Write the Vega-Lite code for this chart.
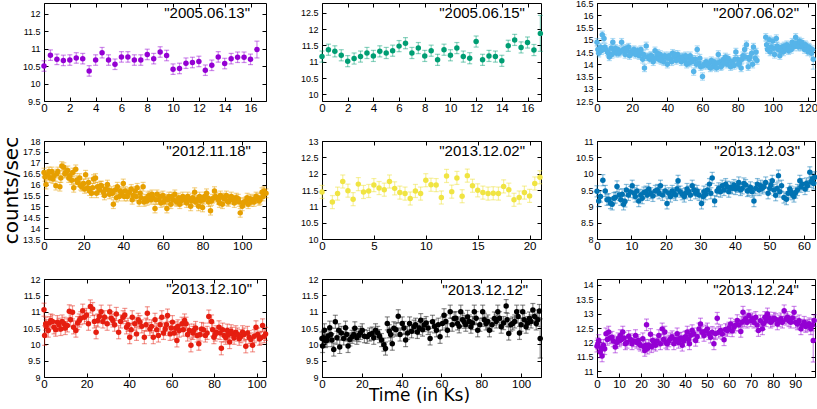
{
"$schema":"https://vega.github.io/schema/vega-lite/v6.json",
"padding":{"left":0,"top":-2,"right":0,"bottom":0},
"columns":3,
"bounds":"flush",
"spacing":{"row":40,"column":56},
"config":{
 "numberFormat":"~f",
 "view":{"stroke":"#000","strokeWidth":1},
 "axis":{"domain":false,"grid":false,"ticks":true,"tickColor":"#000","tickSize":-4,"tickWidth":1,"labelFont":"Liberation Sans","labelColor":"#000","labelOverlap":false,"labelFlush":false,"titleFont":"DejaVu Sans","titleFontWeight":"normal","titleColor":"#000"},
 "axisX":{"labelFontSize":11.5,"labelPadding":5},
 "axisY":{"labelFontSize":9,"labelPadding":8},
 "text":{"font":"Liberation Sans","fontSize":15,"color":"#000"}
},
"datasets":{
"p1":[{"t":0,"c":10.5,"e":0.15},{"t":0.5,"c":10.81,"e":0.15},{"t":1,"c":10.69,"e":0.15},{"t":1.5,"c":10.66,"e":0.15},{"t":2,"c":10.67,"e":0.15},{"t":2.5,"c":10.73,"e":0.15},{"t":3,"c":10.71,"e":0.15},{"t":3.5,"c":10.36,"e":0.15},{"t":4,"c":10.67,"e":0.15},{"t":4.5,"c":10.88,"e":0.15},{"t":5,"c":10.67,"e":0.15},{"t":5.5,"c":10.55,"e":0.15},{"t":6,"c":10.76,"e":0.15},{"t":6.5,"c":10.76,"e":0.15},{"t":7,"c":10.67,"e":0.15},{"t":7.5,"c":10.67,"e":0.15},{"t":8,"c":10.83,"e":0.15},{"t":8.5,"c":10.71,"e":0.15},{"t":9,"c":10.9,"e":0.15},{"t":9.5,"c":10.8,"e":0.15},{"t":10,"c":10.41,"e":0.15},{"t":10.5,"c":10.43,"e":0.15},{"t":11,"c":10.58,"e":0.15},{"t":11.5,"c":10.6,"e":0.15},{"t":12,"c":10.63,"e":0.15},{"t":12.5,"c":10.38,"e":0.15},{"t":13,"c":10.52,"e":0.15},{"t":13.5,"c":10.76,"e":0.15},{"t":14,"c":10.57,"e":0.15},{"t":14.5,"c":10.71,"e":0.15},{"t":15,"c":10.75,"e":0.15},{"t":15.5,"c":10.75,"e":0.15},{"t":16,"c":10.69,"e":0.15},{"t":16.5,"c":10.97,"e":0.24}],
"p2":[{"t":0,"c":11.16,"e":0.17},{"t":0.5,"c":11.37,"e":0.17},{"t":1,"c":11.32,"e":0.17},{"t":1.5,"c":11.2,"e":0.17},{"t":2,"c":11.02,"e":0.17},{"t":2.5,"c":11.1,"e":0.17},{"t":3,"c":11.16,"e":0.17},{"t":3.5,"c":11.27,"e":0.17},{"t":4,"c":11.18,"e":0.17},{"t":4.5,"c":11.32,"e":0.17},{"t":5,"c":11.27,"e":0.17},{"t":5.5,"c":11.34,"e":0.17},{"t":6,"c":11.48,"e":0.17},{"t":6.5,"c":11.57,"e":0.17},{"t":7,"c":11.27,"e":0.17},{"t":7.5,"c":11.42,"e":0.17},{"t":8,"c":11.18,"e":0.17},{"t":8.5,"c":11.34,"e":0.17},{"t":9,"c":11.06,"e":0.17},{"t":9.5,"c":11.37,"e":0.17},{"t":10,"c":11.2,"e":0.17},{"t":10.5,"c":11.42,"e":0.17},{"t":11,"c":11.16,"e":0.17},{"t":11.5,"c":11.11,"e":0.17},{"t":12,"c":11.62,"e":0.17},{"t":12.5,"c":11.06,"e":0.17},{"t":13,"c":11.18,"e":0.17},{"t":13.5,"c":11.16,"e":0.17},{"t":14,"c":11.03,"e":0.17},{"t":14.5,"c":11.49,"e":0.17},{"t":15,"c":11.67,"e":0.17},{"t":15.5,"c":11.44,"e":0.17},{"t":16,"c":11.59,"e":0.17},{"t":16.5,"c":11.36,"e":0.17},{"t":17,"c":11.87,"e":0.55}],
"p3":[{"t":0,"c":14.9,"e":0.15},{"t":1,"c":14.45,"e":0.15},{"t":2,"c":14.7,"e":0.15},{"t":3,"c":15.2,"e":0.15},{"t":4,"c":15.05,"e":0.15},{"t":5,"c":14.6,"e":0.15},{"t":6,"c":14.5,"e":0.15},{"t":7,"c":14.3,"e":0.15},{"t":8,"c":14.65,"e":0.15},{"t":9,"c":14.9,"e":0.15},{"t":10,"c":14.55,"e":0.15},{"t":11,"c":14.45,"e":0.15},{"t":12,"c":14.6,"e":0.15},{"t":13,"c":14.5,"e":0.15},{"t":14,"c":14.9,"e":0.15},{"t":15,"c":14.6,"e":0.15},{"t":16,"c":14.4,"e":0.15},{"t":17,"c":14.55,"e":0.15},{"t":18,"c":14.7,"e":0.15},{"t":19,"c":14.5,"e":0.15},{"t":20,"c":14.45,"e":0.15},{"t":21,"c":14.6,"e":0.15},{"t":22,"c":14.4,"e":0.15},{"t":23,"c":14.55,"e":0.15},{"t":24,"c":14.35,"e":0.15},{"t":25,"c":14.6,"e":0.15},{"t":26,"c":14.2,"e":0.15},{"t":27,"c":13.85,"e":0.15},{"t":28,"c":14.75,"e":0.15},{"t":29,"c":14.3,"e":0.15},{"t":30,"c":14.2,"e":0.15},{"t":31,"c":14.35,"e":0.15},{"t":32,"c":14.1,"e":0.15},{"t":33,"c":14.55,"e":0.15},{"t":34,"c":14.3,"e":0.15},{"t":35,"c":14.2,"e":0.15},{"t":36,"c":14.4,"e":0.15},{"t":37,"c":14.25,"e":0.15},{"t":38,"c":14.1,"e":0.15},{"t":39,"c":14.3,"e":0.15},{"t":40,"c":14.0,"e":0.15},{"t":41,"c":14.35,"e":0.15},{"t":42,"c":14.2,"e":0.15},{"t":43,"c":14.45,"e":0.15},{"t":44,"c":14.3,"e":0.15},{"t":45,"c":14.15,"e":0.15},{"t":46,"c":14.4,"e":0.15},{"t":47,"c":14.25,"e":0.15},{"t":48,"c":14.1,"e":0.15},{"t":49,"c":14.3,"e":0.15},{"t":50,"c":14.15,"e":0.15},{"t":51,"c":14.0,"e":0.15},{"t":52,"c":14.25,"e":0.15},{"t":53,"c":14.35,"e":0.15},{"t":54,"c":14.1,"e":0.15},{"t":55,"c":13.7,"e":0.15},{"t":56,"c":14.2,"e":0.15},{"t":57,"c":14.6,"e":0.15},{"t":58,"c":14.05,"e":0.15},{"t":59,"c":13.9,"e":0.15},{"t":60,"c":13.5,"e":0.15},{"t":61,"c":14.0,"e":0.15},{"t":62,"c":14.1,"e":0.15},{"t":63,"c":13.95,"e":0.15},{"t":64,"c":14.05,"e":0.15},{"t":65,"c":14.15,"e":0.15},{"t":66,"c":13.9,"e":0.15},{"t":67,"c":14.0,"e":0.15},{"t":68,"c":13.85,"e":0.15},{"t":69,"c":14.4,"e":0.15},{"t":70,"c":14.1,"e":0.15},{"t":71,"c":13.95,"e":0.15},{"t":72,"c":14.2,"e":0.15},{"t":73,"c":14.3,"e":0.15},{"t":74,"c":14.0,"e":0.15},{"t":75,"c":14.15,"e":0.15},{"t":76,"c":13.9,"e":0.15},{"t":77,"c":14.05,"e":0.15},{"t":78,"c":13.95,"e":0.15},{"t":79,"c":14.5,"e":0.15},{"t":80,"c":14.2,"e":0.15},{"t":81,"c":14.05,"e":0.15},{"t":82,"c":13.85,"e":0.15},{"t":83,"c":14.35,"e":0.15},{"t":84,"c":14.6,"e":0.15},{"t":85,"c":14.8,"e":0.15},{"t":86,"c":13.9,"e":0.15},{"t":87,"c":14.3,"e":0.15},{"t":88,"c":14.45,"e":0.15},{"t":89,"c":14.7,"e":0.15},{"t":90,"c":14.25,"e":0.15},{"t":91,"c":14.15,"e":0.15},{"t":96,"c":15.1,"e":0.15},{"t":97,"c":14.6,"e":0.15},{"t":98,"c":15.0,"e":0.15},{"t":99,"c":14.7,"e":0.15},{"t":100,"c":14.95,"e":0.15},{"t":101,"c":14.4,"e":0.15},{"t":102,"c":15.05,"e":0.15},{"t":103,"c":14.6,"e":0.15},{"t":104,"c":14.35,"e":0.15},{"t":105,"c":14.7,"e":0.15},{"t":106,"c":14.5,"e":0.15},{"t":107,"c":14.65,"e":0.15},{"t":108,"c":14.8,"e":0.15},{"t":109,"c":14.55,"e":0.15},{"t":110,"c":14.75,"e":0.15},{"t":111,"c":14.9,"e":0.15},{"t":112,"c":14.7,"e":0.15},{"t":113,"c":15.1,"e":0.15},{"t":114,"c":14.85,"e":0.15},{"t":115,"c":14.95,"e":0.15},{"t":116,"c":14.7,"e":0.15},{"t":117,"c":14.8,"e":0.15},{"t":118,"c":14.6,"e":0.15},{"t":119,"c":14.75,"e":0.15},{"t":120,"c":14.5,"e":0.15},{"t":121,"c":14.65,"e":0.15},{"t":122,"c":14.45,"e":0.15},{"t":123,"c":14.2,"e":0.4},
{"t":0.5,"c":14.6,"e":0.15},{"t":2.5,"c":14.55,"e":0.15},{"t":4.5,"c":14.7,"e":0.15},{"t":6.5,"c":14.45,"e":0.15},{"t":8.5,"c":14.4,"e":0.15},{"t":10.5,"c":14.65,"e":0.15},{"t":12.5,"c":14.45,"e":0.15},{"t":14.5,"c":14.55,"e":0.15},{"t":16.5,"c":14.65,"e":0.15},{"t":18.5,"c":14.35,"e":0.15},{"t":20.5,"c":14.55,"e":0.15},{"t":22.5,"c":14.5,"e":0.15},{"t":24.5,"c":14.5,"e":0.15},{"t":26.5,"c":14.4,"e":0.15},{"t":28.5,"c":14.3,"e":0.15},{"t":30.5,"c":14.35,"e":0.15},{"t":32.5,"c":14.25,"e":0.15},{"t":34.5,"c":14.45,"e":0.15},{"t":36.5,"c":14.15,"e":0.15},{"t":38.5,"c":14.35,"e":0.15},{"t":40.5,"c":14.25,"e":0.15},{"t":42.5,"c":14.1,"e":0.15},{"t":44.5,"c":14.4,"e":0.15},{"t":46.5,"c":14.2,"e":0.15},{"t":48.5,"c":14.3,"e":0.15},{"t":50.5,"c":14.35,"e":0.15},{"t":52.5,"c":14.05,"e":0.15},{"t":54.5,"c":14.2,"e":0.15},{"t":56.5,"c":14.0,"e":0.15},{"t":58.5,"c":14.25,"e":0.15},{"t":60.5,"c":13.95,"e":0.15},{"t":62.5,"c":14.0,"e":0.15},{"t":64.5,"c":13.85,"e":0.15},{"t":66.5,"c":14.1,"e":0.15},{"t":68.5,"c":14.05,"e":0.15},{"t":70.5,"c":13.9,"e":0.15},{"t":72.5,"c":14.05,"e":0.15},{"t":74.5,"c":14.25,"e":0.15},{"t":76.5,"c":14.1,"e":0.15},{"t":78.5,"c":14.2,"e":0.15},{"t":80.5,"c":14.0,"e":0.15},{"t":82.5,"c":14.2,"e":0.15},{"t":84.5,"c":14.3,"e":0.15},{"t":86.5,"c":14.2,"e":0.15},{"t":88.5,"c":14.0,"e":0.15},{"t":90.5,"c":14.5,"e":0.15},{"t":96.5,"c":14.8,"e":0.15},{"t":98.5,"c":14.5,"e":0.15},{"t":100.5,"c":14.65,"e":0.15},{"t":102.5,"c":14.75,"e":0.15},{"t":104.5,"c":14.55,"e":0.15},{"t":106.5,"c":14.75,"e":0.15},{"t":108.5,"c":14.6,"e":0.15},{"t":110.5,"c":14.6,"e":0.15},{"t":112.5,"c":14.85,"e":0.15},{"t":114.5,"c":14.7,"e":0.15},{"t":116.5,"c":14.9,"e":0.15},{"t":118.5,"c":14.8,"e":0.15},{"t":120.5,"c":14.7,"e":0.15},{"t":122.5,"c":14.6,"e":0.15}],
"p4":[{"t":0,"c":16.55,"e":0.2},{"t":1,"c":16.0,"e":0.2},{"t":2,"c":16.45,"e":0.2},{"t":3,"c":16.3,"e":0.2},{"t":4,"c":16.6,"e":0.2},{"t":5,"c":16.4,"e":0.2},{"t":6,"c":15.95,"e":0.2},{"t":7,"c":16.6,"e":0.2},{"t":8,"c":15.9,"e":0.2},{"t":9,"c":16.85,"e":0.2},{"t":10,"c":16.8,"e":0.2},{"t":11,"c":16.55,"e":0.2},{"t":12,"c":16.65,"e":0.2},{"t":13,"c":16.4,"e":0.2},{"t":14,"c":16.2,"e":0.2},{"t":15,"c":15.85,"e":0.2},{"t":16,"c":16.7,"e":0.2},{"t":17,"c":16.1,"e":0.2},{"t":18,"c":16.3,"e":0.2},{"t":19,"c":15.9,"e":0.2},{"t":20,"c":16.05,"e":0.2},{"t":21,"c":16.45,"e":0.2},{"t":22,"c":15.85,"e":0.2},{"t":23,"c":15.7,"e":0.2},{"t":24,"c":15.6,"e":0.2},{"t":25,"c":16.25,"e":0.2},{"t":26,"c":16.3,"e":0.2},{"t":27,"c":15.9,"e":0.2},{"t":28,"c":15.75,"e":0.2},{"t":29,"c":15.95,"e":0.2},{"t":30,"c":15.65,"e":0.2},{"t":31,"c":15.8,"e":0.2},{"t":32,"c":16.0,"e":0.2},{"t":33,"c":15.55,"e":0.2},{"t":34,"c":15.7,"e":0.2},{"t":35,"c":15.1,"e":0.2},{"t":36,"c":15.75,"e":0.2},{"t":37,"c":15.9,"e":0.2},{"t":38,"c":15.45,"e":0.2},{"t":39,"c":15.6,"e":0.2},{"t":40,"c":16.05,"e":0.2},{"t":41,"c":15.7,"e":0.2},{"t":42,"c":15.45,"e":0.2},{"t":43,"c":15.65,"e":0.2},{"t":44,"c":15.8,"e":0.2},{"t":45,"c":15.5,"e":0.2},{"t":46,"c":15.7,"e":0.2},{"t":47,"c":15.85,"e":0.2},{"t":48,"c":15.2,"e":0.2},{"t":49,"c":15.4,"e":0.2},{"t":50,"c":15.9,"e":0.2},{"t":51,"c":15.35,"e":0.2},{"t":52,"c":15.25,"e":0.2},{"t":53,"c":15.5,"e":0.2},{"t":54,"c":15.3,"e":0.2},{"t":55,"c":15.4,"e":0.2},{"t":56,"c":14.9,"e":0.2},{"t":57,"c":15.55,"e":0.2},{"t":58,"c":15.3,"e":0.2},{"t":59,"c":15.15,"e":0.2},{"t":60,"c":15.5,"e":0.2},{"t":61,"c":15.35,"e":0.2},{"t":62,"c":14.9,"e":0.2},{"t":63,"c":15.45,"e":0.2},{"t":64,"c":15.1,"e":0.2},{"t":65,"c":15.3,"e":0.2},{"t":66,"c":15.55,"e":0.2},{"t":67,"c":15.2,"e":0.2},{"t":68,"c":15.4,"e":0.2},{"t":69,"c":15.25,"e":0.2},{"t":70,"c":15.45,"e":0.2},{"t":71,"c":15.3,"e":0.2},{"t":72,"c":15.15,"e":0.2},{"t":73,"c":15.35,"e":0.2},{"t":74,"c":15.0,"e":0.2},{"t":75,"c":15.4,"e":0.2},{"t":76,"c":15.65,"e":0.2},{"t":77,"c":15.3,"e":0.2},{"t":78,"c":15.0,"e":0.2},{"t":79,"c":15.25,"e":0.2},{"t":80,"c":14.95,"e":0.2},{"t":81,"c":15.45,"e":0.2},{"t":82,"c":15.6,"e":0.2},{"t":83,"c":15.2,"e":0.2},{"t":84,"c":14.8,"e":0.2},{"t":85,"c":15.35,"e":0.2},{"t":86,"c":15.7,"e":0.2},{"t":87,"c":15.4,"e":0.2},{"t":88,"c":15.3,"e":0.2},{"t":89,"c":15.5,"e":0.2},{"t":90,"c":15.1,"e":0.2},{"t":91,"c":15.35,"e":0.2},{"t":92,"c":15.5,"e":0.2},{"t":93,"c":15.2,"e":0.2},{"t":94,"c":15.35,"e":0.2},{"t":95,"c":15.3,"e":0.2},{"t":96,"c":15.15,"e":0.2},{"t":97,"c":15.4,"e":0.2},{"t":98,"c":15.35,"e":0.2},{"t":99,"c":14.7,"e":0.2},{"t":100,"c":15.0,"e":0.2},{"t":101,"c":15.2,"e":0.2},{"t":102,"c":15.25,"e":0.2},{"t":103,"c":15.1,"e":0.2},{"t":104,"c":15.35,"e":0.2},{"t":105,"c":15.3,"e":0.2},{"t":106,"c":15.2,"e":0.2},{"t":107,"c":15.45,"e":0.2},{"t":108,"c":15.4,"e":0.2},{"t":109,"c":15.3,"e":0.2},{"t":110,"c":15.65,"e":0.2},{"t":111,"c":15.7,"e":0.2},{"t":112,"c":15.6,"e":0.2},
{"t":0.5,"c":16.35,"e":0.2},{"t":2.5,"c":16.6,"e":0.2},{"t":4.5,"c":16.25,"e":0.2},{"t":6.5,"c":16.5,"e":0.2},{"t":8.5,"c":16.3,"e":0.2},{"t":10.5,"c":16.5,"e":0.2},{"t":12.5,"c":16.3,"e":0.2},{"t":14.5,"c":16.55,"e":0.2},{"t":16.5,"c":16.2,"e":0.2},{"t":18.5,"c":15.95,"e":0.2},{"t":20.5,"c":15.8,"e":0.2},{"t":22.5,"c":16.1,"e":0.2},{"t":24.5,"c":15.85,"e":0.2},{"t":26.5,"c":15.6,"e":0.2},{"t":28.5,"c":15.95,"e":0.2},{"t":30.5,"c":15.5,"e":0.2},{"t":32.5,"c":15.75,"e":0.2},{"t":34.5,"c":15.6,"e":0.2},{"t":36.5,"c":15.4,"e":0.2},{"t":38.5,"c":15.7,"e":0.2},{"t":40.5,"c":15.45,"e":0.2},{"t":42.5,"c":15.6,"e":0.2},{"t":44.5,"c":15.3,"e":0.2},{"t":46.5,"c":15.45,"e":0.2},{"t":48.5,"c":15.6,"e":0.2},{"t":50.5,"c":15.2,"e":0.2},{"t":52.5,"c":15.45,"e":0.2},{"t":54.5,"c":15.55,"e":0.2},{"t":56.5,"c":15.3,"e":0.2},{"t":58.5,"c":15.45,"e":0.2},{"t":60.5,"c":15.2,"e":0.2},{"t":62.5,"c":15.3,"e":0.2},{"t":64.5,"c":15.45,"e":0.2},{"t":66.5,"c":15.25,"e":0.2},{"t":68.5,"c":15.1,"e":0.2},{"t":70.5,"c":15.3,"e":0.2},{"t":72.5,"c":15.45,"e":0.2},{"t":74.5,"c":15.25,"e":0.2},{"t":76.5,"c":15.2,"e":0.2},{"t":78.5,"c":15.45,"e":0.2},{"t":80.5,"c":15.3,"e":0.2},{"t":82.5,"c":15.4,"e":0.2},{"t":84.5,"c":15.25,"e":0.2},{"t":86.5,"c":15.45,"e":0.2},{"t":88.5,"c":15.15,"e":0.2},{"t":90.5,"c":15.4,"e":0.2},{"t":92.5,"c":15.25,"e":0.2},{"t":94.5,"c":15.45,"e":0.2},{"t":96.5,"c":15.3,"e":0.2},{"t":98.5,"c":15.2,"e":0.2},{"t":100.5,"c":15.15,"e":0.2},{"t":102.5,"c":15.4,"e":0.2},{"t":104.5,"c":15.2,"e":0.2},{"t":106.5,"c":15.35,"e":0.2},{"t":108.5,"c":15.25,"e":0.2},{"t":110.5,"c":15.45,"e":0.2}],
"p5":[{"t":0,"c":11.44,"e":0.2},{"t":1,"c":11.13,"e":0.2},{"t":1.5,"c":11.39,"e":0.2},{"t":2,"c":11.76,"e":0.2},{"t":2.5,"c":11.48,"e":0.2},{"t":3,"c":11.22,"e":0.2},{"t":3.5,"c":11.68,"e":0.2},{"t":4,"c":11.44,"e":0.2},{"t":4.5,"c":11.47,"e":0.2},{"t":5,"c":11.65,"e":0.2},{"t":5.5,"c":11.56,"e":0.2},{"t":6,"c":11.51,"e":0.2},{"t":6.5,"c":11.76,"e":0.2},{"t":7,"c":11.55,"e":0.2},{"t":7.5,"c":11.42,"e":0.2},{"t":8,"c":11.39,"e":0.2},{"t":8.5,"c":11.24,"e":0.2},{"t":9,"c":11.47,"e":0.2},{"t":9.5,"c":11.39,"e":0.2},{"t":10,"c":11.8,"e":0.2},{"t":10.5,"c":11.66,"e":0.2},{"t":11,"c":11.65,"e":0.2},{"t":11.5,"c":11.27,"e":0.2},{"t":12,"c":11.93,"e":0.2},{"t":12.5,"c":11.45,"e":0.2},{"t":13,"c":11.87,"e":0.2},{"t":13.5,"c":11.31,"e":0.2},{"t":14,"c":11.94,"e":0.2},{"t":14.5,"c":11.63,"e":0.2},{"t":15,"c":11.49,"e":0.2},{"t":15.5,"c":11.42,"e":0.2},{"t":16,"c":11.39,"e":0.2},{"t":16.5,"c":11.4,"e":0.2},{"t":17,"c":11.39,"e":0.2},{"t":17.5,"c":11.61,"e":0.2},{"t":18,"c":11.51,"e":0.2},{"t":18.5,"c":11.2,"e":0.2},{"t":19,"c":11.27,"e":0.2},{"t":19.5,"c":11.42,"e":0.2},{"t":20,"c":11.32,"e":0.2},{"t":20.5,"c":11.7,"e":0.2},{"t":21,"c":11.89,"e":0.2}],
"p6":[{"t":0,"c":9.46,"e":0.17},{"t":0.5,"c":9.16,"e":0.17},{"t":1.7,"c":9.8,"e":0.17},{"t":2.4,"c":9.47,"e":0.17},{"t":3.4,"c":9.22,"e":0.17},{"t":4.4,"c":9.06,"e":0.17},{"t":5.3,"c":9.27,"e":0.17},{"t":5.8,"c":9.61,"e":0.17},{"t":7.3,"c":9.37,"e":0.17},{"t":7.7,"c":9.06,"e":0.17},{"t":8.5,"c":9.5,"e":0.17},{"t":9.7,"c":9.44,"e":0.17},{"t":10.2,"c":9.63,"e":0.17},{"t":11.6,"c":9.47,"e":0.17},{"t":12.1,"c":9.16,"e":0.17},{"t":13.6,"c":9.42,"e":0.17},{"t":15,"c":9.53,"e":0.17},{"t":16.2,"c":9.32,"e":0.17},{"t":16.9,"c":9.47,"e":0.17},{"t":18.4,"c":9.63,"e":0.17},{"t":19.8,"c":9.47,"e":0.17},{"t":20.3,"c":9.09,"e":0.17},{"t":21.8,"c":9.47,"e":0.17},{"t":23.2,"c":9.53,"e":0.17},{"t":23.5,"c":9.78,"e":0.17},{"t":24.7,"c":9.37,"e":0.17},{"t":26.1,"c":9.53,"e":0.17},{"t":27.6,"c":9.63,"e":0.17},{"t":29,"c":9.47,"e":0.17},{"t":30.3,"c":9.09,"e":0.17},{"t":31.5,"c":9.37,"e":0.17},{"t":32.6,"c":9.68,"e":0.17},{"t":33.4,"c":9.87,"e":0.17},{"t":34.1,"c":9.16,"e":0.17},{"t":34.8,"c":9.47,"e":0.17},{"t":36.3,"c":9.63,"e":0.17},{"t":37.3,"c":9.68,"e":0.17},{"t":38.7,"c":9.58,"e":0.17},{"t":40.2,"c":9.53,"e":0.17},{"t":41.1,"c":9.73,"e":0.17},{"t":42.6,"c":9.7,"e":0.17},{"t":43.6,"c":9.47,"e":0.17},{"t":44.5,"c":9.58,"e":0.17},{"t":45.5,"c":9.16,"e":0.17},{"t":46.5,"c":9.68,"e":0.17},{"t":47.4,"c":9.63,"e":0.17},{"t":48.9,"c":9.73,"e":0.17},{"t":49.6,"c":9.4,"e":0.17},{"t":50.8,"c":9.78,"e":0.17},{"t":51.8,"c":9.34,"e":0.17},{"t":52.6,"c":9.94,"e":0.17},{"t":53.5,"c":9.63,"e":0.17},{"t":54.2,"c":9.27,"e":0.17},{"t":54.9,"c":9.22,"e":0.17},{"t":55.9,"c":9.53,"e":0.17},{"t":56.6,"c":9.37,"e":0.17},{"t":57.6,"c":9.42,"e":0.17},{"t":58.8,"c":9.78,"e":0.17},{"t":59.5,"c":9.68,"e":0.17},{"t":60.3,"c":9.53,"e":0.17},{"t":61,"c":9.63,"e":0.17},{"t":61.7,"c":10.04,"e":0.17},{"t":62.4,"c":9.84,"e":0.17},{"t":63.1,"c":9.89,"e":0.17},
{"t":1,"c":9.3,"e":0.17},{"t":2.9,"c":9.2,"e":0.17},{"t":3.9,"c":9.1,"e":0.17},{"t":4.9,"c":9.25,"e":0.17},{"t":6.4,"c":9.35,"e":0.17},{"t":6.9,"c":9.2,"e":0.17},{"t":8.1,"c":9.15,"e":0.17},{"t":9.1,"c":9.35,"e":0.17},{"t":10.8,"c":9.4,"e":0.17},{"t":11.1,"c":9.3,"e":0.17},{"t":12.7,"c":9.35,"e":0.17},{"t":13.1,"c":9.25,"e":0.17},{"t":14.2,"c":9.45,"e":0.17},{"t":14.6,"c":9.35,"e":0.17},{"t":15.6,"c":9.4,"e":0.17},{"t":17.5,"c":9.5,"e":0.17},{"t":18,"c":9.4,"e":0.17},{"t":19,"c":9.35,"e":0.17},{"t":20.8,"c":9.4,"e":0.17},{"t":21.3,"c":9.3,"e":0.17},{"t":22.3,"c":9.4,"e":0.17},{"t":22.8,"c":9.35,"e":0.17},{"t":24.1,"c":9.45,"e":0.17},{"t":25.3,"c":9.3,"e":0.17},{"t":25.7,"c":9.4,"e":0.17},{"t":26.6,"c":9.45,"e":0.17},{"t":27.1,"c":9.35,"e":0.17},{"t":28.1,"c":9.5,"e":0.17},{"t":28.6,"c":9.4,"e":0.17},{"t":29.6,"c":9.35,"e":0.17},{"t":30.8,"c":9.3,"e":0.17},{"t":31,"c":9.45,"e":0.17},{"t":32,"c":9.5,"e":0.17},{"t":33,"c":9.4,"e":0.17},{"t":35.3,"c":9.55,"e":0.17},{"t":35.8,"c":9.45,"e":0.17},{"t":36.8,"c":9.5,"e":0.17},{"t":37.8,"c":9.6,"e":0.17},{"t":38.2,"c":9.45,"e":0.17},{"t":39.2,"c":9.55,"e":0.17},{"t":39.7,"c":9.65,"e":0.17},{"t":40.7,"c":9.6,"e":0.17},{"t":41.6,"c":9.5,"e":0.17},{"t":42.1,"c":9.55,"e":0.17},{"t":43.1,"c":9.65,"e":0.17},{"t":44,"c":9.5,"e":0.17},{"t":45,"c":9.45,"e":0.17},{"t":46,"c":9.55,"e":0.17},{"t":47,"c":9.5,"e":0.17},{"t":47.9,"c":9.55,"e":0.17},{"t":48.4,"c":9.6,"e":0.17},{"t":50.1,"c":9.55,"e":0.17},{"t":50.4,"c":9.65,"e":0.17},{"t":51.3,"c":9.5,"e":0.17},{"t":52.2,"c":9.55,"e":0.17},{"t":53,"c":9.45,"e":0.17},{"t":55.4,"c":9.4,"e":0.17},{"t":56.2,"c":9.45,"e":0.17},{"t":57.1,"c":9.3,"e":0.17},{"t":58.1,"c":9.5,"e":0.17},{"t":59.1,"c":9.6,"e":0.17},{"t":60.7,"c":9.7,"e":0.17},{"t":62,"c":9.75,"e":0.17},{"t":62.8,"c":9.7,"e":0.17}],
"p7":[{"t":0,"c":11.06,"e":0.2},{"t":0.3,"c":10.27,"e":0.3},{"t":0.8,"c":10.63,"e":0.2},{"t":2,"c":10.42,"e":0.2},{"t":3.2,"c":10.73,"e":0.2},{"t":4.7,"c":10.52,"e":0.2},{"t":6.3,"c":10.68,"e":0.2},{"t":7.9,"c":10.47,"e":0.2},{"t":9.5,"c":10.63,"e":0.2},{"t":11,"c":10.58,"e":0.2},{"t":11.9,"c":11.01,"e":0.2},{"t":13.4,"c":10.98,"e":0.2},{"t":13.9,"c":10.52,"e":0.2},{"t":15,"c":10.42,"e":0.2},{"t":16.6,"c":10.73,"e":0.2},{"t":18.2,"c":11.03,"e":0.2},{"t":19,"c":10.83,"e":0.2},{"t":20.9,"c":10.63,"e":0.2},{"t":21.8,"c":11.16,"e":0.2},{"t":22.9,"c":11.08,"e":0.2},{"t":24.5,"c":10.37,"e":0.2},{"t":25.3,"c":10.73,"e":0.2},{"t":26.9,"c":11.0,"e":0.2},{"t":28.5,"c":10.83,"e":0.2},{"t":29.7,"c":10.63,"e":0.2},{"t":30.9,"c":11.0,"e":0.2},{"t":32.4,"c":10.73,"e":0.2},{"t":34,"c":10.93,"e":0.2},{"t":35.1,"c":10.37,"e":0.2},{"t":37.2,"c":10.83,"e":0.2},{"t":38.8,"c":10.52,"e":0.2},{"t":40.3,"c":10.22,"e":0.2},{"t":41.5,"c":10.83,"e":0.2},{"t":42.7,"c":10.63,"e":0.2},{"t":43.5,"c":10.32,"e":0.2},{"t":45.1,"c":10.68,"e":0.2},{"t":47.2,"c":10.22,"e":0.2},{"t":48.6,"c":10.95,"e":0.2},{"t":49.8,"c":10.47,"e":0.2},{"t":51.4,"c":10.22,"e":0.2},{"t":52.2,"c":10.75,"e":0.2},{"t":53.8,"c":10.27,"e":0.2},{"t":55.4,"c":10.83,"e":0.2},{"t":57,"c":10.47,"e":0.2},{"t":58.1,"c":10.88,"e":0.2},{"t":59.3,"c":10.32,"e":0.2},{"t":60.4,"c":10.68,"e":0.2},{"t":62,"c":10.49,"e":0.2},{"t":62.5,"c":10.12,"e":0.2},{"t":63.6,"c":10.42,"e":0.2},{"t":64.9,"c":10.63,"e":0.2},{"t":66.1,"c":10.73,"e":0.2},{"t":66.8,"c":10.63,"e":0.2},{"t":68.4,"c":10.42,"e":0.2},{"t":69.1,"c":9.97,"e":0.2},{"t":70.4,"c":10.42,"e":0.2},{"t":72,"c":10.27,"e":0.2},{"t":72.8,"c":10.02,"e":0.2},{"t":74.1,"c":10.47,"e":0.2},{"t":75.9,"c":10.27,"e":0.2},{"t":77.5,"c":10.85,"e":0.2},{"t":78.8,"c":10.7,"e":0.2},{"t":79.9,"c":10.22,"e":0.2},{"t":81,"c":10.37,"e":0.2},{"t":82.3,"c":10.52,"e":0.2},{"t":83.4,"c":9.88,"e":0.2},{"t":84.7,"c":10.27,"e":0.2},{"t":86.2,"c":10.42,"e":0.2},{"t":87.3,"c":10.07,"e":0.2},{"t":88.6,"c":10.32,"e":0.2},{"t":90.2,"c":10.37,"e":0.2},{"t":91.8,"c":10.17,"e":0.2},{"t":93.4,"c":10.37,"e":0.2},{"t":94.9,"c":9.94,"e":0.2},{"t":96.5,"c":10.22,"e":0.2},{"t":98.1,"c":9.97,"e":0.2},{"t":99.7,"c":10.52,"e":0.2},{"t":101.3,"c":10.17,"e":0.2},{"t":102.8,"c":10.58,"e":0.2},{"t":104.2,"c":10.32,"e":0.2},
{"t":1,"c":10.55,"e":0.2},{"t":2.5,"c":10.65,"e":0.2},{"t":4,"c":10.7,"e":0.2},{"t":5.5,"c":10.45,"e":0.2},{"t":7,"c":10.6,"e":0.2},{"t":8.5,"c":10.7,"e":0.2},{"t":10,"c":10.5,"e":0.2},{"t":12.5,"c":10.75,"e":0.2},{"t":15.8,"c":10.65,"e":0.2},{"t":17.3,"c":10.8,"e":0.2},{"t":20,"c":10.9,"e":0.2},{"t":23.7,"c":10.7,"e":0.2},{"t":26,"c":10.85,"e":0.2},{"t":27.7,"c":10.7,"e":0.2},{"t":31.6,"c":10.8,"e":0.2},{"t":33.2,"c":10.6,"e":0.2},{"t":36,"c":10.7,"e":0.2},{"t":38,"c":10.9,"e":0.2},{"t":39.5,"c":10.6,"e":0.2},{"t":41,"c":10.45,"e":0.2},{"t":44.3,"c":10.75,"e":0.2},{"t":46,"c":10.55,"e":0.2},{"t":48,"c":10.6,"e":0.2},{"t":50.6,"c":10.55,"e":0.2},{"t":53,"c":10.45,"e":0.2},{"t":54.6,"c":10.6,"e":0.2},{"t":56.2,"c":10.35,"e":0.2},{"t":57.6,"c":10.6,"e":0.2},{"t":59.8,"c":10.5,"e":0.2},{"t":61.2,"c":10.35,"e":0.2},{"t":63,"c":10.55,"e":0.2},{"t":65.5,"c":10.45,"e":0.2},{"t":67.5,"c":10.3,"e":0.2},{"t":70,"c":10.35,"e":0.2},{"t":71.3,"c":10.5,"e":0.2},{"t":73.4,"c":10.3,"e":0.2},{"t":75,"c":10.45,"e":0.2},{"t":76.7,"c":10.35,"e":0.2},{"t":79.3,"c":10.45,"e":0.2},{"t":80.5,"c":10.3,"e":0.2},{"t":82.8,"c":10.35,"e":0.2},{"t":84,"c":10.45,"e":0.2},{"t":85.5,"c":10.2,"e":0.2},{"t":86.7,"c":10.3,"e":0.2},{"t":88,"c":10.4,"e":0.2},{"t":89.4,"c":10.2,"e":0.2},{"t":91,"c":10.3,"e":0.2},{"t":92.6,"c":10.25,"e":0.2},{"t":94.1,"c":10.3,"e":0.2},{"t":95.7,"c":10.35,"e":0.2},{"t":97.3,"c":10.15,"e":0.2},{"t":98.9,"c":10.25,"e":0.2},{"t":100.5,"c":10.3,"e":0.2},{"t":102,"c":10.2,"e":0.2},{"t":103.6,"c":10.25,"e":0.2}],
"p8":[{"t":0,"c":10.18,"e":0.2},{"t":0.3,"c":9.95,"e":0.2},{"t":1.2,"c":10.43,"e":0.2},{"t":2.5,"c":10.13,"e":0.2},{"t":3.9,"c":10.51,"e":0.2},{"t":5,"c":10.13,"e":0.2},{"t":5.9,"c":9.84,"e":0.2},{"t":6.7,"c":10.69,"e":0.2},{"t":8.4,"c":10.43,"e":0.2},{"t":8.9,"c":9.92,"e":0.2},{"t":10.9,"c":10.18,"e":0.2},{"t":11.8,"c":10.51,"e":0.2},{"t":13.1,"c":9.95,"e":0.2},{"t":15.1,"c":10.23,"e":0.2},{"t":16.5,"c":10.49,"e":0.2},{"t":18.5,"c":10.28,"e":0.2},{"t":20.2,"c":10.43,"e":0.2},{"t":22.7,"c":10.23,"e":0.2},{"t":25.2,"c":10.33,"e":0.2},{"t":26.9,"c":10.43,"e":0.2},{"t":29.9,"c":10.13,"e":0.2},{"t":31.1,"c":9.99,"e":0.2},{"t":31.9,"c":9.87,"e":0.2},{"t":32.8,"c":10.64,"e":0.2},{"t":35.3,"c":10.02,"e":0.2},{"t":36.1,"c":10.49,"e":0.2},{"t":38.3,"c":10.86,"e":0.2},{"t":40.3,"c":10.64,"e":0.2},{"t":42,"c":10.13,"e":0.2},{"t":44,"c":10.64,"e":0.2},{"t":46.2,"c":10.54,"e":0.2},{"t":47.9,"c":10.38,"e":0.2},{"t":49.6,"c":10.74,"e":0.2},{"t":51.3,"c":10.59,"e":0.2},{"t":54.3,"c":10.18,"e":0.2},{"t":55.5,"c":10.69,"e":0.2},{"t":57.5,"c":10.43,"e":0.2},{"t":59.3,"c":10.23,"e":0.2},{"t":60.5,"c":10.64,"e":0.2},{"t":61.3,"c":10.89,"e":0.2},{"t":63,"c":10.43,"e":0.2},{"t":64.4,"c":11.0,"e":0.2},{"t":66.4,"c":10.79,"e":0.2},{"t":68.1,"c":10.64,"e":0.2},{"t":69.7,"c":11.0,"e":0.2},{"t":71.4,"c":10.69,"e":0.2},{"t":73.1,"c":10.84,"e":0.2},{"t":74.8,"c":10.54,"e":0.2},{"t":76.5,"c":11.0,"e":0.2},{"t":78.2,"c":10.43,"e":0.2},{"t":80.7,"c":11.0,"e":0.2},{"t":82.4,"c":10.64,"e":0.2},{"t":84.1,"c":10.43,"e":0.2},{"t":86.6,"c":10.79,"e":0.2},{"t":88.3,"c":11.0,"e":0.2},{"t":90,"c":10.54,"e":0.2},{"t":92.5,"c":11.17,"e":0.2},{"t":93.8,"c":10.33,"e":0.2},{"t":95.8,"c":10.64,"e":0.2},{"t":97.8,"c":11.0,"e":0.2},{"t":99.2,"c":10.35,"e":0.2},{"t":100.8,"c":11.0,"e":0.2},{"t":102.5,"c":10.54,"e":0.2},{"t":104.2,"c":10.79,"e":0.2},{"t":105.9,"c":11.05,"e":0.2},{"t":107.6,"c":10.64,"e":0.2},{"t":109.2,"c":11.02,"e":0.2},{"t":109.6,"c":10.18,"e":0.6},
{"t":0.8,"c":10.2,"e":0.2},{"t":1.8,"c":10.1,"e":0.2},{"t":3.1,"c":10.25,"e":0.2},{"t":4.5,"c":10.3,"e":0.2},{"t":7.5,"c":10.2,"e":0.2},{"t":9.7,"c":10.35,"e":0.2},{"t":12.4,"c":10.3,"e":0.2},{"t":14,"c":10.15,"e":0.2},{"t":16,"c":10.3,"e":0.2},{"t":17.5,"c":10.2,"e":0.2},{"t":19.3,"c":10.35,"e":0.2},{"t":21.3,"c":10.25,"e":0.2},{"t":23.9,"c":10.3,"e":0.2},{"t":26,"c":10.2,"e":0.2},{"t":28,"c":10.35,"e":0.2},{"t":28.9,"c":10.25,"e":0.2},{"t":33.8,"c":10.4,"e":0.2},{"t":34.5,"c":10.3,"e":0.2},{"t":37.2,"c":10.45,"e":0.2},{"t":39.2,"c":10.3,"e":0.2},{"t":41.2,"c":10.5,"e":0.2},{"t":43,"c":10.35,"e":0.2},{"t":45,"c":10.4,"e":0.2},{"t":47,"c":10.6,"e":0.2},{"t":48.8,"c":10.5,"e":0.2},{"t":50.5,"c":10.45,"e":0.2},{"t":52.3,"c":10.65,"e":0.2},{"t":53.3,"c":10.5,"e":0.2},{"t":56.5,"c":10.55,"e":0.2},{"t":58.4,"c":10.6,"e":0.2},{"t":62.2,"c":10.7,"e":0.2},{"t":65.4,"c":10.6,"e":0.2},{"t":67.2,"c":10.8,"e":0.2},{"t":68.9,"c":10.55,"e":0.2},{"t":70.6,"c":10.75,"e":0.2},{"t":72.2,"c":10.6,"e":0.2},{"t":74,"c":10.7,"e":0.2},{"t":75.6,"c":10.65,"e":0.2},{"t":77.4,"c":10.8,"e":0.2},{"t":79.3,"c":10.6,"e":0.2},{"t":81.5,"c":10.75,"e":0.2},{"t":83.3,"c":10.7,"e":0.2},{"t":85.4,"c":10.6,"e":0.2},{"t":87.5,"c":10.7,"e":0.2},{"t":89.2,"c":10.8,"e":0.2},{"t":91.2,"c":10.65,"e":0.2},{"t":93,"c":10.75,"e":0.2},{"t":94.8,"c":10.6,"e":0.2},{"t":96.8,"c":10.7,"e":0.2},{"t":98.5,"c":10.85,"e":0.2},{"t":100,"c":10.6,"e":0.2},{"t":101.6,"c":10.75,"e":0.2},{"t":103.3,"c":10.65,"e":0.2},{"t":105,"c":10.7,"e":0.2},{"t":106.8,"c":10.85,"e":0.2},{"t":108.4,"c":10.75,"e":0.2}],
"p9":[{"t":0,"c":11.87,"e":0.2},{"t":0.8,"c":12.07,"e":0.2},{"t":1.5,"c":11.67,"e":0.2},{"t":2.3,"c":11.53,"e":0.2},{"t":3.5,"c":11.78,"e":0.2},{"t":4.1,"c":12.3,"e":0.2},{"t":5.3,"c":12.36,"e":0.2},{"t":6.8,"c":12.18,"e":0.2},{"t":8.3,"c":11.84,"e":0.2},{"t":9.6,"c":12.13,"e":0.2},{"t":10.6,"c":12.24,"e":0.2},{"t":11.7,"c":12.36,"e":0.2},{"t":12.9,"c":11.95,"e":0.2},{"t":14.4,"c":12.21,"e":0.2},{"t":15.9,"c":11.95,"e":0.2},{"t":17.5,"c":12.24,"e":0.2},{"t":18.7,"c":12.07,"e":0.2},{"t":19.7,"c":11.9,"e":0.2},{"t":20.8,"c":12.13,"e":0.2},{"t":21.7,"c":11.72,"e":0.2},{"t":22.5,"c":12.61,"e":0.2},{"t":23.5,"c":11.9,"e":0.2},{"t":24.3,"c":12.28,"e":0.2},{"t":25.3,"c":12.07,"e":0.2},{"t":26.6,"c":11.9,"e":0.2},{"t":28.1,"c":12.24,"e":0.2},{"t":29.6,"c":12.47,"e":0.2},{"t":30.8,"c":12.36,"e":0.2},{"t":31.9,"c":11.95,"e":0.2},{"t":33.4,"c":12.13,"e":0.2},{"t":34.9,"c":11.95,"e":0.2},{"t":36.4,"c":12.3,"e":0.2},{"t":37.5,"c":12.13,"e":0.2},{"t":38.7,"c":11.9,"e":0.2},{"t":39.9,"c":12.18,"e":0.2},{"t":41,"c":12.36,"e":0.2},{"t":42,"c":11.95,"e":0.2},{"t":43.2,"c":12.41,"e":0.2},{"t":44.8,"c":12.07,"e":0.2},{"t":46.3,"c":12.47,"e":0.2},{"t":47,"c":12.64,"e":0.2},{"t":48.6,"c":12.24,"e":0.2},{"t":50.1,"c":12.47,"e":0.2},{"t":51.6,"c":12.18,"e":0.2},{"t":53.1,"c":11.95,"e":0.2},{"t":54.6,"c":12.84,"e":0.2},{"t":56.1,"c":12.41,"e":0.2},{"t":57.7,"c":12.09,"e":0.2},{"t":59.2,"c":12.41,"e":0.2},{"t":60.7,"c":12.64,"e":0.2},{"t":62.2,"c":12.53,"e":0.2},{"t":63.7,"c":12.76,"e":0.2},{"t":65.3,"c":12.38,"e":0.2},{"t":66.3,"c":13.05,"e":0.2},{"t":67.5,"c":12.82,"e":0.2},{"t":69,"c":12.93,"e":0.2},{"t":70.6,"c":12.82,"e":0.2},{"t":72.1,"c":12.87,"e":0.2},{"t":73.3,"c":12.41,"e":0.2},{"t":75.1,"c":12.47,"e":0.2},{"t":76.2,"c":12.87,"e":0.2},{"t":77.4,"c":12.99,"e":0.2},{"t":78.9,"c":12.7,"e":0.2},{"t":80.4,"c":12.84,"e":0.2},{"t":81.9,"c":12.64,"e":0.2},{"t":83.5,"c":12.82,"e":0.2},{"t":85,"c":13.1,"e":0.2},{"t":86.5,"c":12.87,"e":0.2},{"t":88,"c":12.7,"e":0.2},{"t":89.5,"c":13.05,"e":0.2},{"t":91,"c":12.64,"e":0.2},{"t":92.6,"c":12.47,"e":0.2},{"t":94.1,"c":12.7,"e":0.2},{"t":95.6,"c":12.59,"e":0.2},{"t":97.1,"c":12.47,"e":0.2},{"t":98.2,"c":12.07,"e":0.75},{"t":98.6,"c":12.76,"e":0.2},
{"t":0.4,"c":11.95,"e":0.2},{"t":1.9,"c":11.8,"e":0.2},{"t":2.9,"c":11.9,"e":0.2},{"t":4.7,"c":12.1,"e":0.2},{"t":5.9,"c":12.15,"e":0.2},{"t":7.4,"c":12.05,"e":0.2},{"t":8.9,"c":12.0,"e":0.2},{"t":10.1,"c":12.05,"e":0.2},{"t":11.1,"c":12.1,"e":0.2},{"t":12.3,"c":12.15,"e":0.2},{"t":13.6,"c":12.0,"e":0.2},{"t":15.2,"c":12.1,"e":0.2},{"t":16.7,"c":12.05,"e":0.2},{"t":18.1,"c":12.0,"e":0.2},{"t":19.2,"c":11.95,"e":0.2},{"t":21.2,"c":11.85,"e":0.2},{"t":22.1,"c":11.9,"e":0.2},{"t":23,"c":11.8,"e":0.2},{"t":24.8,"c":11.85,"e":0.2},{"t":25.9,"c":11.95,"e":0.2},{"t":27.3,"c":12.05,"e":0.2},{"t":28.8,"c":11.95,"e":0.2},{"t":30.2,"c":12.1,"e":0.2},{"t":31.3,"c":12.0,"e":0.2},{"t":32.6,"c":12.05,"e":0.2},{"t":34.1,"c":12.2,"e":0.2},{"t":35.6,"c":12.1,"e":0.2},{"t":37,"c":12.0,"e":0.2},{"t":38.1,"c":12.15,"e":0.2},{"t":39.3,"c":12.05,"e":0.2},{"t":40.4,"c":12.2,"e":0.2},{"t":41.5,"c":12.1,"e":0.2},{"t":42.6,"c":12.25,"e":0.2},{"t":44,"c":12.3,"e":0.2},{"t":45.5,"c":12.2,"e":0.2},{"t":47.7,"c":12.35,"e":0.2},{"t":49.3,"c":12.4,"e":0.2},{"t":50.8,"c":12.3,"e":0.2},{"t":52.3,"c":12.35,"e":0.2},{"t":53.8,"c":12.3,"e":0.2},{"t":55.3,"c":12.35,"e":0.2},{"t":56.9,"c":12.3,"e":0.2},{"t":58.4,"c":12.45,"e":0.2},{"t":59.9,"c":12.5,"e":0.2},{"t":61.4,"c":12.4,"e":0.2},{"t":62.9,"c":12.6,"e":0.2},{"t":64.4,"c":12.6,"e":0.2},{"t":65.8,"c":12.7,"e":0.2},{"t":66.9,"c":12.75,"e":0.2},{"t":68.2,"c":12.7,"e":0.2},{"t":69.8,"c":12.75,"e":0.2},{"t":71.3,"c":12.7,"e":0.2},{"t":72.7,"c":12.6,"e":0.2},{"t":74.2,"c":12.75,"e":0.2},{"t":75.6,"c":12.65,"e":0.2},{"t":76.8,"c":12.75,"e":0.2},{"t":78.2,"c":12.85,"e":0.2},{"t":79.6,"c":12.75,"e":0.2},{"t":81.1,"c":12.8,"e":0.2},{"t":82.7,"c":12.75,"e":0.2},{"t":84.2,"c":12.7,"e":0.2},{"t":85.8,"c":12.8,"e":0.2},{"t":87.2,"c":12.75,"e":0.2},{"t":88.8,"c":12.85,"e":0.2},{"t":90.2,"c":12.7,"e":0.2},{"t":91.8,"c":12.75,"e":0.2},{"t":93.3,"c":12.6,"e":0.2},{"t":94.8,"c":12.55,"e":0.2},{"t":96.3,"c":12.65,"e":0.2},{"t":97.8,"c":12.6,"e":0.2}],
"lab":[{"k":1}]
},
"concat":[
{"width":222,"height":98,"data":{"name":"p1"},"layer":[
 {"mark":{"type":"errorbar","color":"#9400d3","opacity":0.45,"ticks":true,"size":5,"thickness":1.2},"encoding":{"x":{"field":"t","type":"quantitative","scale":{"domain":[0,17.2],"nice":false,"zero":false},"axis":null},"y":{"field":"c","type":"quantitative","scale":{"domain":[9.5,12.3],"nice":false,"zero":false},"axis":null},"yError":{"field":"e"}}},
 {"mark":{"type":"point","filled":true,"size":30,"color":"#9400d3","opacity":1},"encoding":{"x":{"field":"t","type":"quantitative","axis":{"orient":"bottom","values":[0,2,4,6,8,10,12,14,16],"title":null}},"y":{"field":"c","type":"quantitative","axis":{"orient":"left","values":[9.5,10,10.5,11,11.5,12],"title":null}}}},
 {"data":{"name":"lab"},"mark":{"type":"text","align":"right","baseline":"middle"},"encoding":{"x":{"datum":15.96,"type":"quantitative","axis":{"orient":"top","values":[0,2,4,6,8,10,12,14,16],"labels":false,"title":null}},"y":{"datum":12.01,"type":"quantitative","axis":{"orient":"right","values":[9.5,10,10.5,11,11.5,12],"labels":false,"title":null}},"text":{"value":"\"2005.06.13\""}}}
],"resolve":{"axis":{"x":"independent","y":"independent"}}},
{"width":219,"height":98,"data":{"name":"p2"},"layer":[
 {"mark":{"type":"errorbar","color":"#009e73","opacity":0.45,"ticks":true,"size":5,"thickness":1.2},"encoding":{"x":{"field":"t","type":"quantitative","scale":{"domain":[0,17.05],"nice":false,"zero":false},"axis":null},"y":{"field":"c","type":"quantitative","scale":{"domain":[9.8,12.8],"nice":false,"zero":false},"axis":null},"yError":{"field":"e"}}},
 {"mark":{"type":"point","filled":true,"size":30,"color":"#009e73","opacity":1},"encoding":{"x":{"field":"t","type":"quantitative","axis":{"orient":"bottom","values":[0,2,4,6,8,10,12,14,16],"title":null}},"y":{"field":"c","type":"quantitative","axis":{"orient":"left","values":[10,10.5,11,11.5,12,12.5],"title":null}}}},
 {"data":{"name":"lab"},"mark":{"type":"text","align":"right","baseline":"middle"},"encoding":{"x":{"datum":15.8,"type":"quantitative","axis":{"orient":"top","values":[0,2,4,6,8,10,12,14,16],"labels":false,"title":null}},"y":{"datum":12.49,"type":"quantitative","axis":{"orient":"right","values":[10,10.5,11,11.5,12,12.5],"labels":false,"title":null}},"text":{"value":"\"2005.06.15\""}}}
],"resolve":{"axis":{"x":"independent","y":"independent"}}},
{"width":218,"height":98,"data":{"name":"p3"},"layer":[
 {"mark":{"type":"errorbar","color":"#56b4e9","opacity":0.45,"ticks":true,"size":5,"thickness":1.2},"encoding":{"x":{"field":"t","type":"quantitative","scale":{"domain":[0,124],"nice":false,"zero":false},"axis":null},"y":{"field":"c","type":"quantitative","scale":{"domain":[12.5,16.5],"nice":false,"zero":false},"axis":null},"yError":{"field":"e"}}},
 {"mark":{"type":"point","filled":true,"size":30,"color":"#56b4e9","opacity":1},"encoding":{"x":{"field":"t","type":"quantitative","axis":{"orient":"bottom","values":[0,20,40,60,80,100,120],"title":null}},"y":{"field":"c","type":"quantitative","axis":{"orient":"left","values":[12.5,13,13.5,14,14.5,15,15.5,16,16.5],"title":null}}}},
 {"data":{"name":"lab"},"mark":{"type":"text","align":"right","baseline":"middle"},"encoding":{"x":{"datum":114.9,"type":"quantitative","axis":{"orient":"top","values":[0,20,40,60,80,100,120],"labels":false,"title":null}},"y":{"datum":16.09,"type":"quantitative","axis":{"orient":"right","values":[12.5,13,13.5,14,14.5,15,15.5,16,16.5],"labels":false,"title":null}},"text":{"value":"\"2007.06.02\""}}}
],"resolve":{"axis":{"x":"independent","y":"independent"}}},
{"width":222,"height":98,"data":{"name":"p4"},"layer":[
 {"mark":{"type":"errorbar","color":"#e69f00","opacity":0.45,"ticks":true,"size":5,"thickness":1.2},"encoding":{"x":{"field":"t","type":"quantitative","scale":{"domain":[0,112],"nice":false,"zero":false},"axis":null},"y":{"field":"c","type":"quantitative","scale":{"domain":[13.5,18],"nice":false,"zero":false},"axis":null},"yError":{"field":"e"}}},
 {"mark":{"type":"point","filled":true,"size":30,"color":"#e69f00","opacity":1},"encoding":{"x":{"field":"t","type":"quantitative","axis":{"orient":"bottom","values":[0,20,40,60,80,100],"title":null}},"y":{"field":"c","type":"quantitative","axis":{"orient":"left","values":[13.5,14,14.5,15,15.5,16,16.5,17,17.5,18],"title":"counts/sec","titleFontSize":20,"titleX":-27,"titleY":49,"titleBaseline":"alphabetic"}}}},
 {"data":{"name":"lab"},"mark":{"type":"text","align":"right","baseline":"middle"},"encoding":{"x":{"datum":104.4,"type":"quantitative","axis":{"orient":"top","values":[0,20,40,60,80,100],"labels":false,"title":null}},"y":{"datum":17.54,"type":"quantitative","axis":{"orient":"right","values":[13.5,14,14.5,15,15.5,16,16.5,17,17.5,18],"labels":false,"title":null}},"text":{"value":"\"2012.11.18\""}}}
],"resolve":{"axis":{"x":"independent","y":"independent"}}},
{"width":219,"height":98,"data":{"name":"p5"},"layer":[
 {"mark":{"type":"errorbar","color":"#f0e442","opacity":0.5,"ticks":true,"size":5,"thickness":1.2},"encoding":{"x":{"field":"t","type":"quantitative","scale":{"domain":[0,21.1],"nice":false,"zero":false},"axis":null},"y":{"field":"c","type":"quantitative","scale":{"domain":[10,13],"nice":false,"zero":false},"axis":null},"yError":{"field":"e"}}},
 {"mark":{"type":"point","filled":true,"size":30,"color":"#f0e442","opacity":1},"encoding":{"x":{"field":"t","type":"quantitative","axis":{"orient":"bottom","values":[0,5,10,15,20],"title":null}},"y":{"field":"c","type":"quantitative","axis":{"orient":"left","values":[10,10.5,11,11.5,12,12.5,13],"title":null}}}},
 {"data":{"name":"lab"},"mark":{"type":"text","align":"right","baseline":"middle"},"encoding":{"x":{"datum":19.56,"type":"quantitative","axis":{"orient":"top","values":[0,5,10,15,20],"labels":false,"title":null}},"y":{"datum":12.68,"type":"quantitative","axis":{"orient":"right","values":[10,10.5,11,11.5,12,12.5,13],"labels":false,"title":null}},"text":{"value":"\"2013.12.02\""}}}
],"resolve":{"axis":{"x":"independent","y":"independent"}}},
{"width":218,"height":98,"data":{"name":"p6"},"layer":[
 {"mark":{"type":"errorbar","color":"#0072b2","opacity":0.45,"ticks":true,"size":5,"thickness":1.2},"encoding":{"x":{"field":"t","type":"quantitative","scale":{"domain":[0,63.2],"nice":false,"zero":false},"axis":null},"y":{"field":"c","type":"quantitative","scale":{"domain":[8,11],"nice":false,"zero":false},"axis":null},"yError":{"field":"e"}}},
 {"mark":{"type":"point","filled":true,"size":30,"color":"#0072b2","opacity":1},"encoding":{"x":{"field":"t","type":"quantitative","axis":{"orient":"bottom","values":[0,10,20,30,40,50,60],"title":null}},"y":{"field":"c","type":"quantitative","axis":{"orient":"left","values":[8,8.5,9,9.5,10,10.5,11],"title":null}}}},
 {"data":{"name":"lab"},"mark":{"type":"text","align":"right","baseline":"middle"},"encoding":{"x":{"datum":58.85,"type":"quantitative","axis":{"orient":"top","values":[0,10,20,30,40,50,60],"labels":false,"title":null}},"y":{"datum":10.69,"type":"quantitative","axis":{"orient":"right","values":[8,8.5,9,9.5,10,10.5,11],"labels":false,"title":null}},"text":{"value":"\"2013.12.03\""}}}
],"resolve":{"axis":{"x":"independent","y":"independent"}}},
{"width":222,"height":98,"data":{"name":"p7"},"layer":[
 {"mark":{"type":"errorbar","color":"#e51e10","opacity":0.45,"ticks":true,"size":5,"thickness":1.2},"encoding":{"x":{"field":"t","type":"quantitative","scale":{"domain":[0,104.4],"nice":false,"zero":false},"axis":null},"y":{"field":"c","type":"quantitative","scale":{"domain":[9,12],"nice":false,"zero":false},"axis":null},"yError":{"field":"e"}}},
 {"mark":{"type":"point","filled":true,"size":30,"color":"#e51e10","opacity":1},"encoding":{"x":{"field":"t","type":"quantitative","axis":{"orient":"bottom","values":[0,20,40,60,80,100],"title":null}},"y":{"field":"c","type":"quantitative","axis":{"orient":"left","values":[9,9.5,10,10.5,11,11.5,12],"title":null}}}},
 {"data":{"name":"lab"},"mark":{"type":"text","align":"right","baseline":"middle"},"encoding":{"x":{"datum":97.8,"type":"quantitative","axis":{"orient":"top","values":[0,20,40,60,80,100],"labels":false,"title":null}},"y":{"datum":11.69,"type":"quantitative","axis":{"orient":"right","values":[9,9.5,10,10.5,11,11.5,12],"labels":false,"title":null}},"text":{"value":"\"2013.12.10\""}}}
],"resolve":{"axis":{"x":"independent","y":"independent"}}},
{"width":219,"height":98,"data":{"name":"p8"},"layer":[
 {"mark":{"type":"errorbar","color":"#000000","opacity":0.45,"ticks":true,"size":5,"thickness":1.2},"encoding":{"x":{"field":"t","type":"quantitative","scale":{"domain":[0,110],"nice":false,"zero":false},"axis":null},"y":{"field":"c","type":"quantitative","scale":{"domain":[9,12],"nice":false,"zero":false},"axis":null},"yError":{"field":"e"}}},
 {"mark":{"type":"point","filled":true,"size":30,"color":"#000000","opacity":1},"encoding":{"x":{"field":"t","type":"quantitative","axis":{"orient":"bottom","values":[0,20,40,60,80,100],"title":"Time (in Ks)","titleFontSize":17,"titleX":97,"titleY":23.5,"titleBaseline":"alphabetic"}},"y":{"field":"c","type":"quantitative","axis":{"orient":"left","values":[9,9.5,10,10.5,11,11.5,12],"title":null}}}},
 {"data":{"name":"lab"},"mark":{"type":"text","align":"right","baseline":"middle"},"encoding":{"x":{"datum":103.5,"type":"quantitative","axis":{"orient":"top","values":[0,20,40,60,80,100],"labels":false,"title":null}},"y":{"datum":11.66,"type":"quantitative","axis":{"orient":"right","values":[9,9.5,10,10.5,11,11.5,12],"labels":false,"title":null}},"text":{"value":"\"2013.12.12\""}}}
],"resolve":{"axis":{"x":"independent","y":"independent"}}},
{"width":218,"height":98,"data":{"name":"p9"},"layer":[
 {"mark":{"type":"errorbar","color":"#9400d3","opacity":0.45,"ticks":true,"size":5,"thickness":1.2},"encoding":{"x":{"field":"t","type":"quantitative","scale":{"domain":[0,99],"nice":false,"zero":false},"axis":null},"y":{"field":"c","type":"quantitative","scale":{"domain":[10.8,14.2],"nice":false,"zero":false},"axis":null},"yError":{"field":"e"}}},
 {"mark":{"type":"point","filled":true,"size":30,"color":"#9400d3","opacity":1},"encoding":{"x":{"field":"t","type":"quantitative","axis":{"orient":"bottom","values":[0,10,20,30,40,50,60,70,80,90],"title":null}},"y":{"field":"c","type":"quantitative","axis":{"orient":"left","values":[11,11.5,12,12.5,13,13.5,14],"title":null}}}},
 {"data":{"name":"lab"},"mark":{"type":"text","align":"right","baseline":"middle"},"encoding":{"x":{"datum":91.7,"type":"quantitative","axis":{"orient":"top","values":[0,10,20,30,40,50,60,70,80,90],"labels":false,"title":null}},"y":{"datum":13.83,"type":"quantitative","axis":{"orient":"right","values":[11,11.5,12,12.5,13,13.5,14],"labels":false,"title":null}},"text":{"value":"\"2013.12.24\""}}}
],"resolve":{"axis":{"x":"independent","y":"independent"}}}
]
}
